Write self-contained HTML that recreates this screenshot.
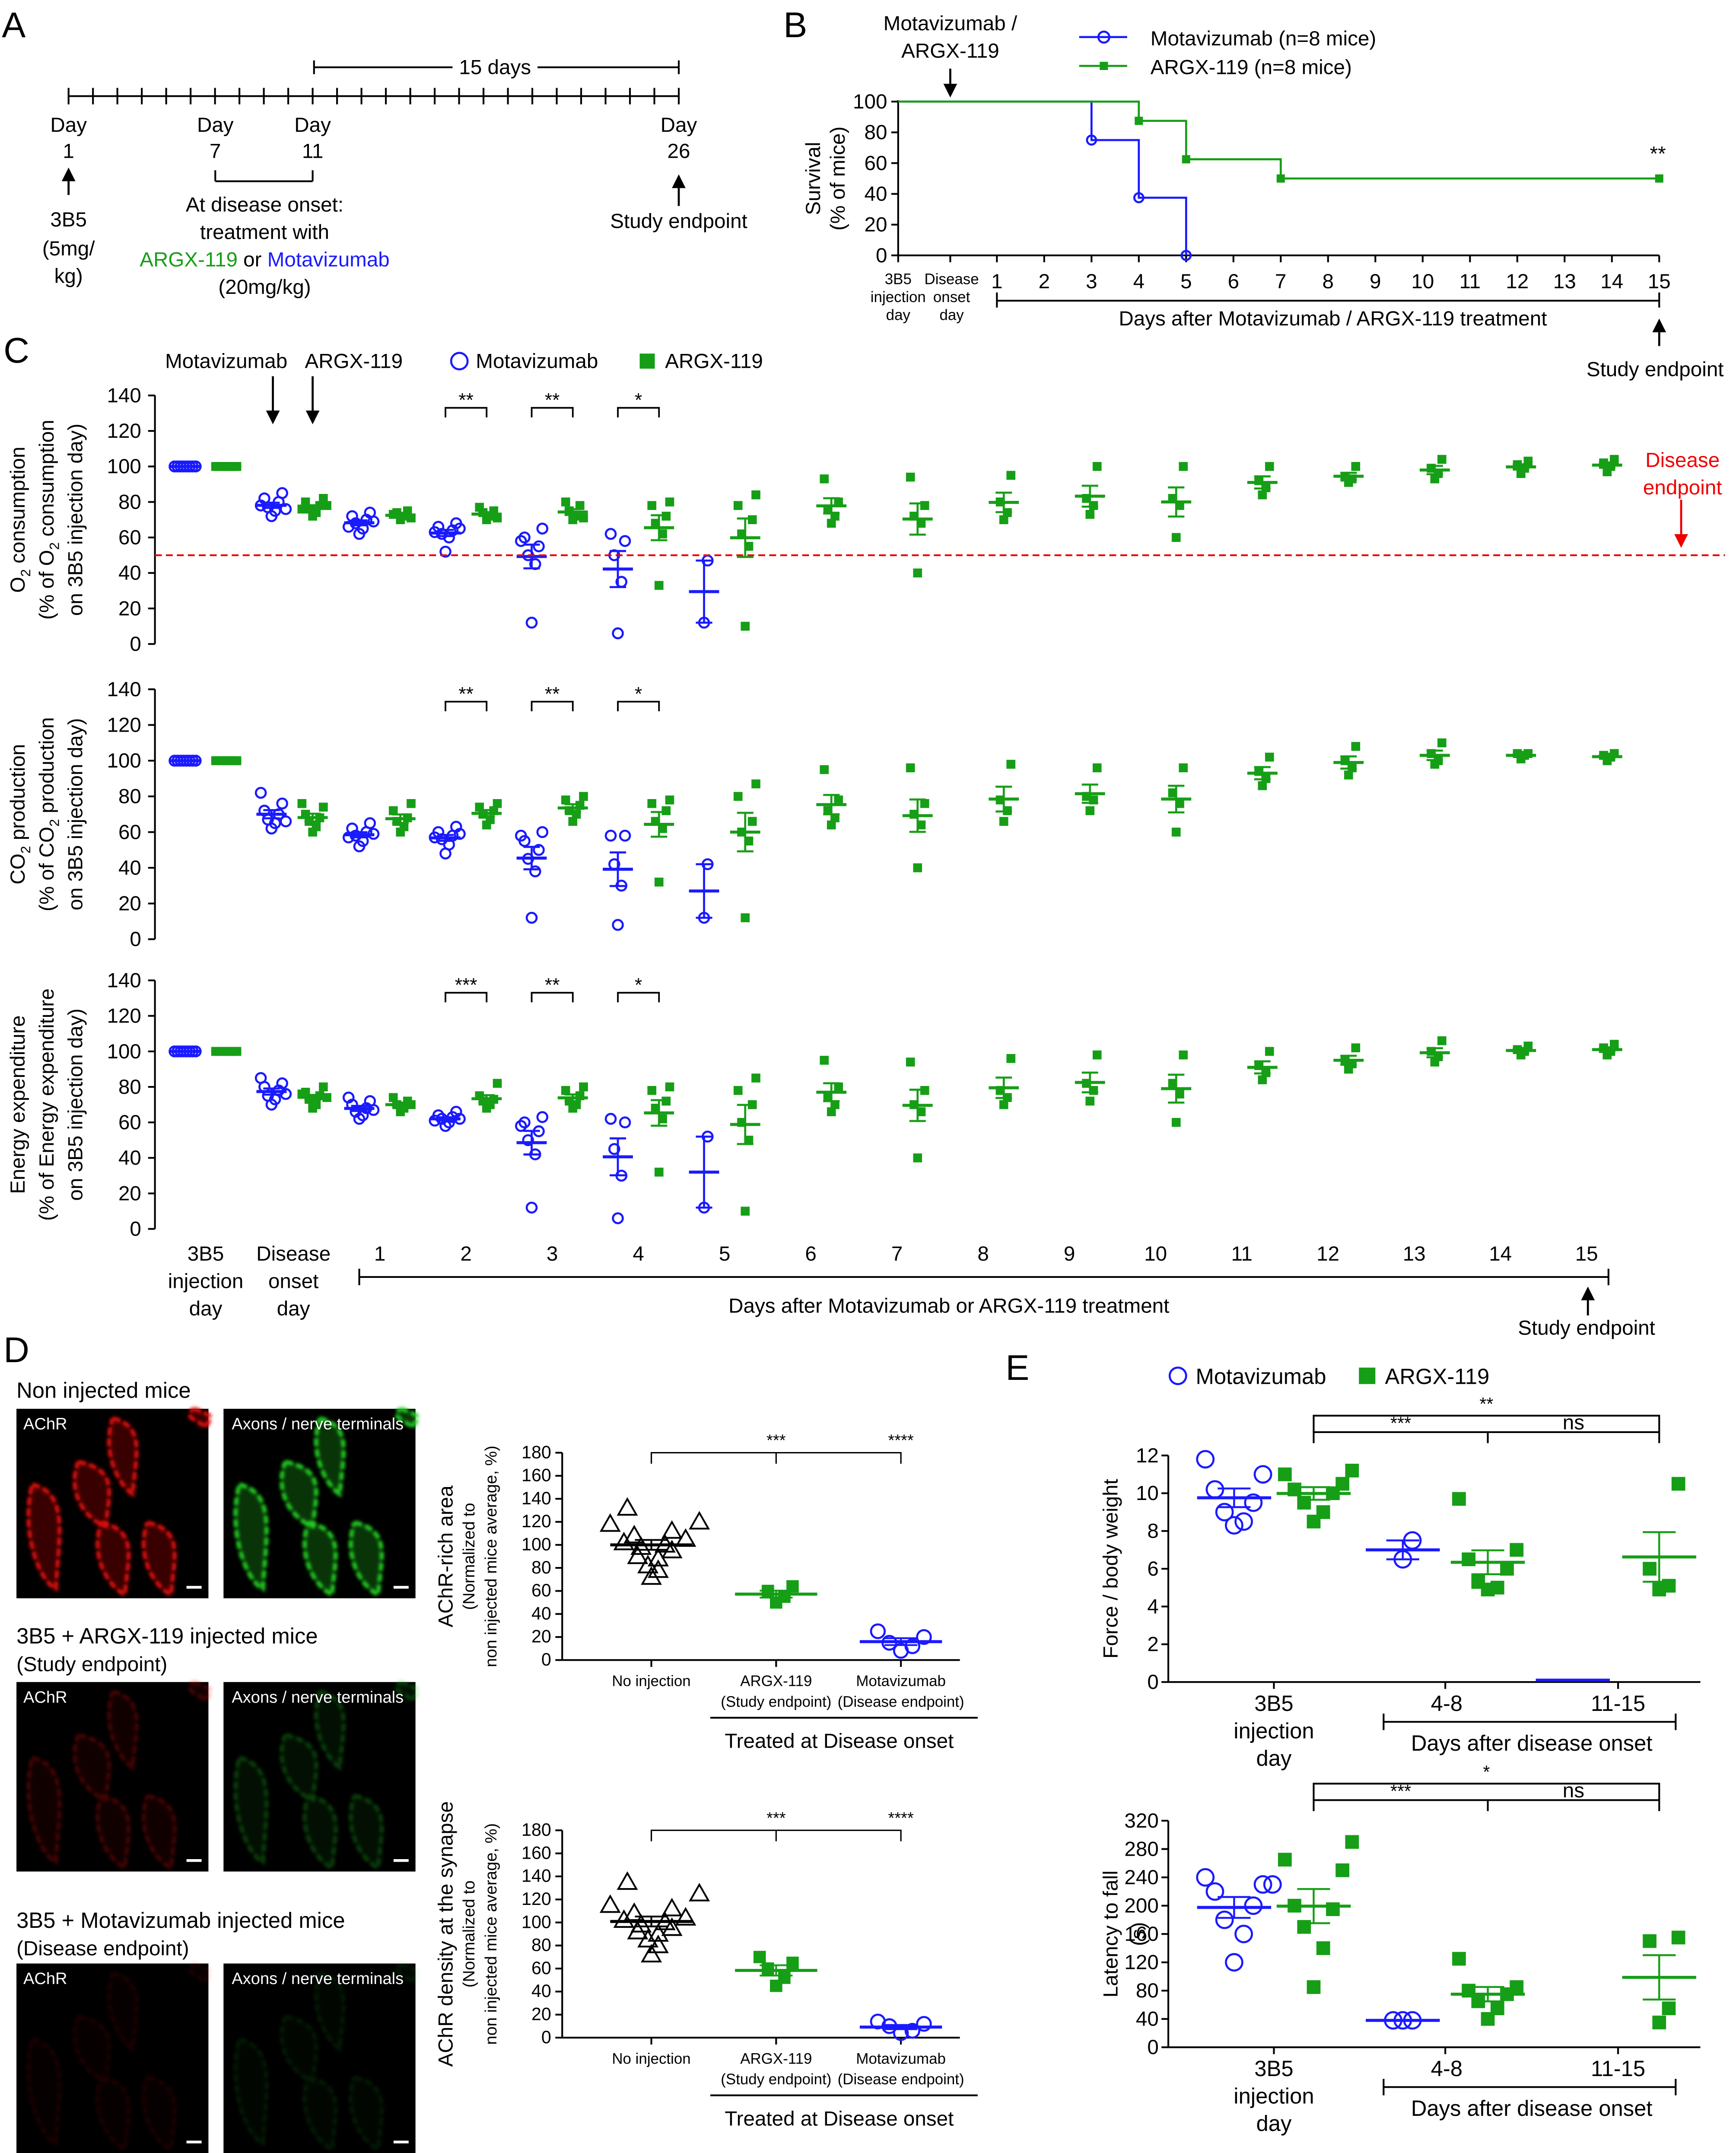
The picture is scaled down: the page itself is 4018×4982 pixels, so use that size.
<!DOCTYPE html>
<html><head><meta charset="utf-8">
<style>
html,body{margin:0;padding:0;background:#fff;}
svg{display:block;font-family:"Liberation Sans",Arial,sans-serif;}
</style></head>
<body>
<svg id="fig" width="4018" height="4982" viewBox="0 0 1266 1568" preserveAspectRatio="none" xmlns="http://www.w3.org/2000/svg">
<defs>
<filter id="blur1"><feGaussianBlur stdDeviation="1.2"/></filter>
</defs>
</svg>
<script>
// ---------- DATA ----------
// Panel B survival
const survMotaDays=[3,4,5];
const survMotaVals=[75,37.5,0];
const survArgxDays=[4,5,7,15];
const survArgxVals=[87.5,62.5,50,50];
// Panel C categories
const cCategories=['3B5','onset','1','2','3','4','5','6','7','8','9','10','11','12','13','14','15'];
const o2Mota=[[100,100,100,100,100,100,100,100],[72,75,77,80,82,85,78,76],[62,65,68,70,72,74,66,69],[52,60,62,64,66,68,63,65],[12,45,50,55,60,65,58],[6,35,50,58,62],[12,47]];
const o2Argx=[[100,100,100,100,100,100,100,100],[72,74,76,78,80,82,76,78],[70,72,74,75,73,71],[70,72,74,75,77,71],[70,72,75,78,80,71],[33,62,68,72,78,80],[10,55,62,70,78,84],[68,72,76,80,93],[40,68,72,78,94],[70,74,80,95],[73,78,82,100],[60,78,82,100],[84,88,92,100],[91,93,94,100],[93,96,99,104],[96,99,101,103],[97,100,102,104]];
const co2Mota=[[100,100,100,100,100,100,100,100],[62,65,67,70,72,76,82,66],[52,55,58,60,62,65,57,59],[48,53,56,58,60,63,57,59],[12,38,45,50,55,60,58],[8,30,42,58,58],[12,42]];
const co2Argx=[[100,100,100,100,100,100,100,100],[60,63,66,68,70,74,76],[60,63,66,68,72,76],[64,67,70,72,74,76],[66,70,72,75,78,80],[32,62,66,72,76,78],[12,55,60,66,80,87],[64,68,72,78,95],[40,64,70,76,96],[66,72,78,98],[72,78,80,96],[60,76,82,96],[86,90,94,102],[92,96,100,108],[98,100,104,110],[101,103,104,104],[100,102,103,104]];
const eeMota=[[100,100,100,100,100,100,100,100],[70,73,75,78,80,82,85,76],[62,64,66,68,70,72,74,67],[58,60,62,63,64,66,61,62],[12,42,50,55,60,63,58],[6,30,45,60,62],[12,52]];
const eeArgx=[[100,100,100,100,100,100,100,100],[68,70,73,75,77,80,76,74],[66,68,70,72,74,70],[68,70,72,73,75,82],[68,70,72,75,78,80],[32,62,68,72,78,80],[10,50,60,70,78,85],[66,70,74,80,95],[40,66,70,78,94],[70,74,78,96],[72,78,82,98],[60,76,82,98],[84,88,92,100],[90,93,95,102],[94,97,100,106],[98,100,101,103],[98,100,102,104]];
// Panel D
const dCategories=['No injection','ARGX-119','Motavizumab'];
const dAreaNoInj=[72,78,82,88,90,95,98,100,102,105,108,112,118,120,132];
const dAreaArgx=[50,55,60,64];
const dAreaMota=[8,12,15,20,25];
const dDensNoInj=[72,80,85,90,92,95,98,100,102,104,108,112,115,125,135];
const dDensArgx=[45,52,60,65,70];
const dDensMota=[4,6,10,12,14];
// Panel E
const eForceMota3B5=[8.3,8.5,9,9.5,10.2,11,11.8];
const eForceArgx3B5=[8.5,9,9.5,10,10.2,10.5,11,11.2];
const eForceMota48=[6.5,7.5];
const eForceArgx48=[4.9,5,5.3,6,6.5,7,9.7];
const eForceMota1115=[0.1];
const eForceArgx1115=[4.9,5.1,6,10.5];
const eLatMota3B5=[120,160,180,200,220,230,240,230];
const eLatArgx3B5=[85,140,170,195,200,250,265,290];
const eLatMota48=[38,38,38];
const eLatArgx48=[40,55,65,75,80,85,125];
const eLatArgx1115=[35,55,150,155];

// ---------- helpers ----------
const NS='http://www.w3.org/2000/svg';
const svg=document.getElementById('fig');
const BLUE='#1a1aff', GREEN='#169e16';
function mk(tag,attrs,name,parent){
 const e=document.createElementNS(NS,tag);
 for(const k in attrs)e.setAttribute(k,attrs[k]);
 
 
 (parent||svg).appendChild(e);return e;
}
function T(x,y,s,size,name,anchor,fill,extra){
 const a={x:x,y:y,'font-size':size||15,'text-anchor':anchor||'middle',fill:fill||'#000'};
 if(extra)for(const k in extra)a[k]=extra[k];
 const e=mk('text',a,name);e.textContent=s;return e;
}
function L(x1,y1,x2,y2,name,stroke,w,extra){
 const a={x1:x1,y1:y1,x2:x2,y2:y2,stroke:stroke||'#000','stroke-width':w||1.3};
 if(extra)for(const k in extra)a[k]=extra[k];
 return mk('line',a,name);
}
function circ(x,y,r,col,name){return mk('circle',{cx:x,cy:y,r:r,fill:'none',stroke:col,'stroke-width':1.5},name);}
function sq(x,y,s,col,name){return mk('rect',{x:x-s/2,y:y-s/2,width:s,height:s,fill:col},name);}
function tri(x,y,s,name){return mk('path',{d:`M${x},${y-s*0.6} L${x+s*0.6},${y+s*0.45} L${x-s*0.6},${y+s*0.45} Z`,fill:'none',stroke:'#000','stroke-width':1.3},name);}
function mean(a){return a.reduce((s,v)=>s+v,0)/a.length;}
function sem(a){const m=mean(a);if(a.length<2)return 0;const sd=Math.sqrt(a.reduce((s,v)=>s+(v-m)*(v-m),0)/(a.length-1));return sd/Math.sqrt(a.length);}
function arrowV(x,yFrom,yTo,name,col){
 col=col||'#000';
 const dir=yTo>yFrom?1:-1;const hl=10;
 L(x,yFrom,x,yTo-dir*hl,name,col,1.5);
 mk('path',{d:`M${x-5},${yTo-dir*hl} L${x+5},${yTo-dir*hl} L${x},${yTo} Z`,fill:col},name+'-head');
}

// ---------- Panel labels ----------
T(10,27,'A',26,'panel-label-a','middle');
T(580,27,'B',26,'panel-label-b','middle');
T(12,264,'C',26,'panel-label-c','middle');
T(12,992,'D',26,'panel-label-d','middle');
T(742,1005,'E',26,'panel-label-e','middle');

// ---------- Panel A timeline ----------
L(50,70,495,70,'timeline-axis');
for(let i=0;i<=25;i++){const x=50+i*17.8;L(x,64,x,76,'timeline-tick');}
L(229,44,229,54,'fifteen-day-bracket-left');L(495,44,495,54,'fifteen-day-bracket-right');
L(229,49,330,49,'fifteen-day-line-left');L(392,49,495,49,'fifteen-day-line-right');
T(361,54,'15 days',15,'fifteen-days-label');
[['Day',50,96],['1',50,115],['Day',157,96],['7',157,115],['Day',228,96],['11',228,115],['Day',495,96],['26',495,115]].forEach(d=>T(d[1],d[2],d[0],15,'timeline-day-label'));
L(157,124,157,132,'onset-bracket-l');L(228,124,228,132,'onset-bracket-r');L(157,132,228,132,'onset-bracket');
arrowV(50,142,122,'day1-arrow');
arrowV(495,150,127,'day26-arrow');
T(50,165,'3B5',15,'a-3b5-label');T(50,186,'(5mg/',15,'a-dose-label');T(50,206,'kg)',15,'a-dose-label2');
T(193,154,'At disease onset:',15,'a-onset-label');T(193,174,'treatment with',15,'a-treatment-label');
const ta=T(193,194,'',15,'a-treatment-drugs');
ta.innerHTML='<tspan fill="'+GREEN+'">ARGX-119</tspan> or <tspan fill="'+BLUE+'">Motavizumab</tspan>';
T(193,214,'(20mg/kg)',15,'a-treatment-dose');
T(495,166,'Study endpoint',15,'a-study-endpoint');

// ---------- Panel B survival ----------
(function(){
 const x0=655,y0=186,yT=74;
 const xB=d=>727+(d-1)*34.5;
 const yB=v=>y0-v*(y0-yT)/100;
 L(x0,y0,x0,yT-1,'b-y-axis');L(x0,y0,1210,y0,'b-x-axis');
 [0,20,40,60,80,100].forEach(v=>{L(x0-5,yB(v),x0,yB(v),'b-y-tick');T(x0-8,yB(v)+5,String(v),15,'b-y-tick-label','end');});
 mk('text',{x:598,y:130,'font-size':15,'text-anchor':'middle',transform:'rotate(-90 598 130)'},'b-y-title').textContent='Survival';
 mk('text',{x:616,y:130,'font-size':15,'text-anchor':'middle',transform:'rotate(-90 616 130)'},'b-y-title2').textContent='(% of mice)';
 L(x0,y0,x0,y0+5,'b-x-tick');L(693,y0,693,y0+5,'b-x-tick');
 for(let d=1;d<=15;d++){L(xB(d),y0,xB(d),y0+5,'b-x-tick');T(xB(d),210,String(d),15,'b-x-tick-label');}
 T(655,207,'3B5',11,'b-3b5');T(655,220,'injection',11,'b-3b5');T(655,233,'day',11,'b-3b5');
 T(694,207,'Disease',11,'b-onset');T(694,220,'onset',11,'b-onset');T(694,233,'day',11,'b-onset');
 L(727,213,727,224,'b-bracket-l');L(1210,213,1210,224,'b-bracket-r');L(727,219,1210,219,'b-bracket');
 T(972,237,'Days after Motavizumab / ARGX-119 treatment',15,'b-x-title');
 arrowV(1210,252,232,'b-endpoint-arrow');
 T(1207,274,'Study endpoint',15,'b-study-endpoint');
 T(693,22,'Motavizumab /',15,'b-treat-label');T(693,42,'ARGX-119',15,'b-treat-label2');
 arrowV(693,50,71,'b-treat-arrow');
 function step(days,vals,col,name){
  let d=`M${x0},${yB(100)}`;let prev=100;
  days.forEach((dd,i)=>{d+=` L${xB(dd)},${yB(prev)} L${xB(dd)},${yB(vals[i])}`;prev=vals[i];});
  mk('path',{d:d,fill:'none',stroke:col,'stroke-width':1.5},name);
 }
 step(survMotaDays,survMotaVals,BLUE,'b-motavizumab-line');
 step(survArgxDays,survArgxVals,GREEN,'b-argx-line');
 survMotaDays.forEach((d,i)=>circ(xB(d),yB(survMotaVals[i]),3.3,BLUE,'b-motavizumab-point'));
 survArgxDays.forEach((d,i)=>sq(xB(d),yB(survArgxVals[i]),6,GREEN,'b-argx-point'));
 T(1209,117,'**',15,'b-significance');
 L(787,27,822,27,'b-legend-line-mota',BLUE,1.5);circ(805,27,4,BLUE,'b-legend-marker-mota');
 T(839,33,'Motavizumab (n=8 mice)',15,'b-legend-mota','start');
 L(787,48,822,48,'b-legend-line-argx',GREEN,1.5);sq(805,48,6,GREEN,'b-legend-marker-argx');
 T(839,54,'ARGX-119 (n=8 mice)',15,'b-legend-argx','start');
})();

// ---------- Panel C ----------
function xC(i){return i<2?[150,213][i]:277+(i-2)*62.86;}
function panelC(y0,yT,mota,argx,titles,pname,sigs){
 const yv=v=>y0-v*(y0-yT)/140;
 L(113,y0,113,yT,pname+'-y-axis');
 for(let v=0;v<=140;v+=20){L(108,yv(v),113,yv(v),pname+'-y-tick');T(103,yv(v)+5,String(v),15,pname+'-y-tick-label','end');}
 const cy=(y0+yT)/2;
 titles.forEach((t,i)=>{const x=18+i*21;const e=mk('text',{x:x,y:cy,'font-size':15,'text-anchor':'middle',transform:`rotate(-90 ${x} ${cy})`},pname+'-y-title');e.innerHTML=t;});
 function group(pts,i,isM){
  const xc=xC(i)+(isM?-15:15);const col=isM?BLUE:GREEN;
  const n=pts.length;
  pts.forEach((v,k)=>{
   const off=(i===0)?(k-(n-1)/2)*2.2:((k%2?1:-1)*Math.ceil(k/2)*2.6);
   if(isM)circ(xc+off,yv(v),3.6,col,pname+'-motavizumab-point');else sq(xc+off,yv(v),6.5,col,pname+'-argx-point');
  });
  const m=mean(pts),s=sem(pts);
  L(xc-11,yv(m),xc+11,yv(m),pname+(isM?'-motavizumab-mean':'-argx-mean'),col,2.2);
  if(s>0){L(xc,yv(m-s),xc,yv(m+s),pname+'-sem-bar',col,1.5);L(xc-6,yv(m-s),xc+6,yv(m-s),pname+'-sem-cap',col,1.5);L(xc-6,yv(m+s),xc+6,yv(m+s),pname+'-sem-cap',col,1.5);}
 }
 mota.forEach((p,i)=>group(p,i,true));
 argx.forEach((p,i)=>group(p,i,false));
 sigs.forEach((s,j)=>{const i=3+j;const xa=xC(i)-15,xb=xC(i)+15,yb=yT+9;
  mk('path',{d:`M${xa},${yb+7} L${xa},${yb} L${xb},${yb} L${xb},${yb+7}`,fill:'none',stroke:'#000','stroke-width':1.2},pname+'-significance-bracket');
  T(xC(i),yb-1,s,14,pname+'-significance-label');});
 return yv;
}
const yO2=panelC(469,288,o2Mota,o2Argx,['O<tspan font-size="10" dy="4">2</tspan><tspan dy="-4"> consumption</tspan>','(% of O<tspan font-size="10" dy="4">2</tspan><tspan dy="-4"> consumption</tspan>','on 3B5 injection day)'],'c-o2',['**','**','*']);
L(113,yO2(50),1258,yO2(50),'c-o2-threshold-line','#e00',1.3,{'stroke-dasharray':'5,3'});
T(1227,340,'Disease',15,'c-disease-endpoint','middle','#e00');T(1227,360,'endpoint',15,'c-disease-endpoint2','middle','#e00');
arrowV(1226,364,399,'c-disease-endpoint-arrow','#e00');
panelC(684,502,co2Mota,co2Argx,['CO<tspan font-size="10" dy="4">2</tspan><tspan dy="-4"> production</tspan>','(% of CO<tspan font-size="10" dy="4">2</tspan><tspan dy="-4"> production</tspan>','on 3B5 injection day)'],'c-co2',['**','**','*']);
panelC(895,714,eeMota,eeArgx,['Energy expenditure','(% of Energy expenditure','on 3B5 injection day)'],'c-ee',['***','**','*']);
// C header
T(165,268,'Motavizumab',15,'c-header-motavizumab');T(258,268,'ARGX-119',15,'c-header-argx');
arrowV(199,274,309,'c-arrow-motavizumab');arrowV(228,274,309,'c-arrow-argx');
circ(335,263,6,BLUE,'c-legend-marker-mota');T(347,268,'Motavizumab',15,'c-legend-mota','start');
sq(472,263,11,GREEN,'c-legend-marker-argx');T(485,268,'ARGX-119',15,'c-legend-argx','start');
// C x axis labels
T(150,918,'3B5',15,'c-x-3b5');T(150,938,'injection',15,'c-x-3b5');T(150,958,'day',15,'c-x-3b5');
T(214,918,'Disease',15,'c-x-onset');T(214,938,'onset',15,'c-x-onset');T(214,958,'day',15,'c-x-onset');
for(let i=2;i<cCategories.length;i++)T(xC(i),918,cCategories[i],15,'c-x-tick-label');
L(262,930,1173,930,'c-days-bracket');L(262,924,262,936,'c-days-bracket-l');L(1173,924,1173,936,'c-days-bracket-r');
T(692,956,'Days after Motavizumab or ARGX-119 treatment',15,'c-x-title');
arrowV(1158,958,937,'c-endpoint-arrow');
T(1157,972,'Study endpoint',15,'c-study-endpoint');

// ---------- Panel D images ----------
function micro(x,y,w,h,col,op,name){
 mk('rect',{x:x,y:y,width:w,height:h,fill:'#000'},name);
 const g=mk('g',{opacity:op,filter:'url(#blur1)'},name+'-signal');
 const shapes=[[0.06,0.4,0.22,0.95],[0.3,0.28,0.48,0.62],[0.48,0.05,0.62,0.45],[0.42,0.6,0.58,0.98],[0.66,0.6,0.82,0.98],[0.9,0,1,0.1]];
 shapes.forEach(s=>{const x1=x+s[0]*w,y1=y+s[1]*h,x2=x+s[2]*w,y2=y+s[3]*h;
  mk('path',{d:`M${x1+3},${y1} C${x2+8},${y1+6} ${x2},${(y1+y2)/2} ${x2-2},${y2} C${x1+10},${y2-4} ${x1-6},${(y1+y2)/2} ${x1+3},${y1}`,fill:col,'fill-opacity':0.25,stroke:col,'stroke-width':3,'stroke-dasharray':'6,2'},name+'-junction',g);});
 L(x+w-16,y+h-8,x+w-5,y+h-8,name+'-scale-bar','#fff',2);
}
const rows=[[1026,'Non injected mice',1,1018],[1225,'3B5 + ARGX-119 injected mice',0.3,1197],[1430,'3B5 + Motavizumab injected mice',0.12,1404]];
rows.forEach((r,i)=>{
 T(12,r[3],r[1],16,'d-row-title','start');
 micro(12,r[0],140,138,'#e01010',r[2],'d-achr-image');
 micro(163,r[0],140,138,'#20d020',r[2],'d-axon-image');
 T(17,r[0]+15,'AChR',12,'d-achr-label','start','#fff');
 T(169,r[0]+15,'Axons / nerve terminals',12,'d-axon-label','start','#fff');
});
T(12,1217,'(Study endpoint)',15,'d-row2-sub','start');T(12,1424,'(Disease endpoint)',15,'d-row3-sub','start');

// ---------- Panel D charts ----------
function panelD(y0,yT,noinj,argx,mota,pname,titles,sigY){
 const yv=v=>y0-v*(y0-yT)/180;const xs=[475,566,657];
 L(410,y0,410,yT,pname+'-y-axis');L(410,y0,700,y0,pname+'-x-axis');
 for(let v=0;v<=180;v+=20){L(405,yv(v),410,yv(v),pname+'-y-tick');T(402,yv(v)+4,String(v),13,pname+'-y-tick-label','end');}
 xs.forEach(x=>L(x,y0,x,y0+5,pname+'-x-tick'));
 T(xs[0],y0+19,'No injection',11,pname+'-x-label');
 T(xs[1],y0+19,'ARGX-119',11,pname+'-x-label');T(xs[1],y0+34,'(Study endpoint)',11,pname+'-x-label');
 T(xs[2],y0+19,'Motavizumab',11,pname+'-x-label');T(xs[2],y0+34,'(Disease endpoint)',11,pname+'-x-label');
 L(518,y0+42,713,y0+42,pname+'-treated-line');
 T(612,y0+64,'Treated at Disease onset',15,pname+'-treated-label');
 const cy=(y0+yT)/2;
 titles.forEach((t,i)=>{const x=330+i*16;mk('text',{x:x,y:cy,'font-size':i?12:15,'text-anchor':'middle',transform:`rotate(-90 ${x} ${cy})`},pname+'-y-title').textContent=t;});
 function grp(pts,xc,kind,col){
  pts.forEach((v,k)=>{const off=((k%2?1:-1)*Math.ceil(k/2)*(kind==='t'?5:6));
   if(kind==='t')tri(xc+off*((k%4<2)?1:0.5),yv(v),11,pname+'-noinjection-point');
   else if(kind==='s')sq(xc+off,yv(v),9,col,pname+'-argx-point');
   else circ(xc+off*1.4,yv(v),5,col,pname+'-motavizumab-point');});
  const m=mean(pts),s=sem(pts);
  L(xc-30,yv(m),xc+30,yv(m),pname+'-mean',col,2.2);
  L(xc,yv(m-s),xc,yv(m+s),pname+'-sem-bar',col,1.3);L(xc-12,yv(m-s),xc+12,yv(m-s),pname+'-sem-cap',col,1.3);L(xc-12,yv(m+s),xc+12,yv(m+s),pname+'-sem-cap',col,1.3);
 }
 grp(noinj,xs[0],'t','#000');grp(argx,xs[1],'s',GREEN);grp(mota,xs[2],'c',BLUE);
 mk('path',{d:`M${xs[0]},${sigY+8} L${xs[0]},${sigY} L${xs[2]},${sigY} L${xs[2]},${sigY+8} M${xs[1]},${sigY} L${xs[1]},${sigY+8}`,fill:'none',stroke:'#000','stroke-width':1},pname+'-significance-bracket');
 T(xs[1],sigY-5,'***',12,pname+'-significance');T(xs[2],sigY-5,'****',12,pname+'-significance');
}
panelD(1209,1058,dAreaNoInj,dAreaArgx,dAreaMota,'d-area',['AChR-rich area','(Normalized to','non injected mice average, %)'],1058);
panelD(1484,1333,dDensNoInj,dDensArgx,dDensMota,'d-density',['AChR density at the synapse','(Normalized to','non injected mice average, %)'],1333);

// ---------- Panel E ----------
const eX=[900,958,1023,1085,1147,1210];
function panelE(y0,yT,vmax,step,groups,pname,titles,sig,sigY){
 const yv=v=>y0-v*(y0-yT)/vmax;
 L(852,y0,852,yT,pname+'-y-axis');L(852,y0,1240,y0,pname+'-x-axis');
 for(let v=0;v<=vmax;v+=step){L(847,yv(v),852,yv(v),pname+'-y-tick');T(845,yv(v)+5,String(v),15,pname+'-y-tick-label','end');}
 [929,1054,1180].forEach(x=>L(x,y0,x,y0+5,pname+'-x-tick'));
 T(929,y0+21,'3B5',16,pname+'-x-3b5');T(929,y0+41,'injection',16,pname+'-x-3b5');T(929,y0+61,'day',16,pname+'-x-3b5');
 T(1055,y0+21,'4-8',16,pname+'-x-48');T(1180,y0+21,'11-15',16,pname+'-x-1115');
 L(1009,y0+29,1222,y0+29,pname+'-days-bracket');L(1009,y0+23,1009,y0+35,pname+'-days-bracket-l');L(1222,y0+23,1222,y0+35,pname+'-days-bracket-r');
 T(1117,y0+50,'Days after disease onset',16,pname+'-x-title');
 const cy=(y0+yT)/2;
 titles.forEach((t,i)=>{const x=815+i*20;mk('text',{x:x,y:cy,'font-size':15,'text-anchor':'middle',transform:`rotate(-90 ${x} ${cy})`},pname+'-y-title').textContent=t;});
 groups.forEach(g=>{
  const pts=g[0],xc=eX[g[1]],isM=g[2],col=isM?BLUE:GREEN;
  pts.forEach((v,k)=>{const off=((k%2?1:-1)*Math.ceil(k/2)*7);
   if(isM){if(pts.length>1||v>1)circ(xc+off,yv(v),6,col,pname+'-motavizumab-point');}
   else sq(xc+off,yv(v),10,col,pname+'-argx-point');});
  const m=mean(pts),s=sem(pts);
  L(xc-27,yv(m),xc+27,yv(m),pname+'-mean',col,2.2);
  if(s>0){L(xc,yv(m-s),xc,yv(m+s),pname+'-sem-bar',col,1.4);L(xc-12,yv(m-s),xc+12,yv(m-s),pname+'-sem-cap',col,1.4);L(xc-12,yv(m+s),xc+12,yv(m+s),pname+'-sem-cap',col,1.4);}
 });
 const a=eX[1],b=eX[3],c=eX[5];
 mk('path',{d:`M${a},${sigY+14} L${a},${sigY+6} L${b},${sigY+6} L${c},${sigY+6} L${c},${sigY+14} M${b},${sigY+6} L${b},${sigY+14}`,fill:'none',stroke:'#000','stroke-width':1.3},pname+'-significance-bracket');
 mk('path',{d:`M${a},${sigY+6} L${a},${sigY-6} L${c},${sigY-6} L${c},${sigY+6}`,fill:'none',stroke:'#000','stroke-width':1.3},pname+'-significance-bracket-outer');
 T((a+b)/2,sigY+4,'***',13,pname+'-significance');T((b+c)/2,sigY+4,'ns',15,pname+'-significance');T((a+c)/2,sigY-10,sig,13,pname+'-significance');
}
panelE(1225,1060,12,2,[[eForceMota3B5,0,true],[eForceArgx3B5,1,false],[eForceMota48,2,true],[eForceArgx48,3,false],[eForceMota1115,4,true],[eForceArgx1115,5,false]],'e-force',['Force / body weight'],'**',1037);
panelE(1491,1326,320,40,[[eLatMota3B5,0,true],[eLatArgx3B5,1,false],[eLatMota48,2,true],[eLatArgx48,3,false],[eLatArgx1115,5,false]],'e-latency',['Latency to fall','(s)'],'*',1305);
circ(859,1002,6,BLUE,'e-legend-marker-mota');T(872,1008,'Motavizumab',16,'e-legend-mota','start');
sq(997,1002,12,GREEN,'e-legend-marker-argx');T(1010,1008,'ARGX-119',16,'e-legend-argx','start');
</script>
</body></html>
